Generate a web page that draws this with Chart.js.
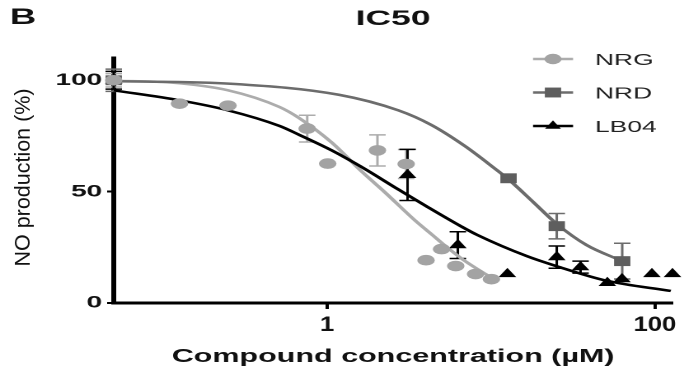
<!DOCTYPE html>
<html>
<head>
<meta charset="utf-8">
<title>IC50</title>
<script src="https://cdn.jsdelivr.net/npm/chart.js@4.4.0/dist/chart.umd.min.js"></script>
<style>
  html, body { margin: 0; padding: 0; background: #fff; overflow: hidden; }
  /* the figure is drawn narrow and stretched sideways, like the source image */
  #wrap { position: absolute; left: 0; top: 0; width: 415px; height: 367px;
          transform: scaleX(1.6482); transform-origin: 0 0; }
</style>
</head>
<body>
<div id="wrap"><canvas id="ic50Chart"></canvas></div>
<script>
var STRETCH = 684 / 415;

// --- values ---
var panelLetter = 'B';
var chartTitle = 'IC50';
var xTitle = 'Compound concentration (\u00b5M)';
var yTitle = 'NO production (%)';
var seriesNames = ['NRG', 'NRD', 'LB04'];

var xTickValues = [1, 100];
var xTickLabels = ['1', '100'];
var yTickValues = [0, 50, 100];

// measured points (conc in uM, NO %, +/- error)
var nrgConc = [0.05, 0.126, 0.249, 0.757, 1.01, 2.03, 3.04, 4.02, 5.0, 6.1, 8.06, 10.07];
var nrgNO   = [100, 89.5, 88.6, 78.3, 62.6, 68.5, 62.4, 19.2, 24.2, 16.6, 13, 10.7];
var nrgErr  = [3, 0, 0, 6, 0, 7, 6.5, 0, 0, 0, 0, 0];

var nrdConc = [0.05, 12.8, 25.2, 63.2];
var nrdNO   = [100, 56, 34.5, 18.8];
var nrdErr  = [5, 0, 5.7, 8];

var lbConc = [0.05, 3.1, 6.28, 12.6, 25.2, 35.2, 51.3, 63, 95.9, 128];
var lbNO   = [100, 57.5, 26, 13, 20.6, 16.1, 9, 10.7, 13, 13];
var lbErr  = [4, 11.5, 6, 0, 5, 2.7, 0, 0, 0, 0];

// fitted curves
var nrgFitConc = [0.05, 0.111, 0.249, 0.513, 0.677, 1.07, 1.63, 2.27, 3.45, 4.4, 5.2, 6.9, 10];
var nrgFitNO   = [99.8, 99, 95.5, 88, 83, 72, 59, 49.5, 37, 30.5, 26, 19, 11.5];

var nrdFitConc = [0.05, 0.267, 1.18, 2.72, 4.31, 6.92, 10.5, 12.8, 18.3, 25.2, 38.3, 63.2];
var nrdFitNO   = [99.6, 98.4, 93.5, 86.5, 80, 70.5, 60.5, 55.5, 45, 35.5, 26, 18.8];

var lbFitConc = [0.05, 0.126, 0.249, 0.513, 0.677, 1.07, 1.63, 2.72, 4.13, 6.54, 8.28, 16.6, 25.2, 50.6, 125];
var lbFitNO   = [95.5, 91, 86.5, 79.5, 75.5, 68.5, 61, 51, 43, 34.5, 30.5, 21, 16.5, 10, 5.4];

var nrgColor = '#a3a3a3', nrgLine = '#acacac';
var nrdColor = '#5e5e5e', nrdLine = '#6c6c6c';
var lbColor = '#000000';

function toPts(xs, ys) {
  var out = [];
  for (var i = 0; i < xs.length; i++) out.push({ x: xs[i], y: ys[i] });
  return out;
}

var FONT = '"Liberation Sans", Arial, Helvetica, sans-serif';
Chart.defaults.font.family = FONT;

// error bars, drawn under the markers
var errorBars = {
  id: 'errorBars',
  beforeDatasetsDraw: function(chart) {
    var ctx = chart.ctx, xs = chart.scales.x, ys = chart.scales.y;
    ctx.save();
    chart.data.datasets.forEach(function(ds) {
      if (!ds.errors) return;
      ctx.strokeStyle = ds.barColor;
      ctx.lineWidth = 1.5;
      ds.data.forEach(function(p, i) {
        var e = ds.errors[i];
        if (!e) return;
        var px = xs.getPixelForValue(p.x);
        var top = ys.getPixelForValue(p.y + e);
        var bot = ys.getPixelForValue(p.y - e);
        ctx.beginPath();
        ctx.moveTo(px, top); ctx.lineTo(px, bot);
        ctx.moveTo(px - 5, top); ctx.lineTo(px + 5, top);
        ctx.moveTo(px - 5, bot); ctx.lineTo(px + 5, bot);
        ctx.stroke();
      });
    });
    ctx.restore();
  }
};

// titles, x tick labels and legend
var figText = {
  id: 'figText',
  afterDraw: function(chart) {
    var ctx = chart.ctx, area = chart.chartArea, xs = chart.scales.x;
    var cx = (area.left + area.right) / 2;
    ctx.save();
    ctx.fillStyle = '#111';
    ctx.textBaseline = 'alphabetic';

    ctx.font = 'bold 22px ' + FONT;
    ctx.textAlign = 'left';
    ctx.fillText(panelLetter, 6, 24);

    ctx.font = 'bold 21.5px ' + FONT;
    ctx.textAlign = 'center';
    ctx.fillText(chartTitle, cx, 25);

    ctx.font = 'bold 21px ' + FONT;
    xTickValues.forEach(function(v, i) {
      ctx.save();
      ctx.translate(xs.getPixelForValue(v), 331);
      ctx.scale(0.74, 1);
      ctx.fillText(xTickLabels[i], 0, 0);
      ctx.restore();
    });

    ctx.font = 'bold 18.5px ' + FONT;
    ctx.fillText(xTitle, cx, 362);

    // y title is not stretched in the source, so squeeze it back
    ctx.save();
    ctx.translate(14.3, 177.5);
    ctx.scale(1 / STRETCH, 1);
    ctx.rotate(-Math.PI / 2);
    ctx.font = '21.5px ' + FONT;
    ctx.textBaseline = 'middle';
    ctx.fillText(yTitle, 0, 0);
    ctx.restore();

    // legend
    var rows = [59, 92.5, 126];
    var styles = [
      { line: nrgLine, fill: nrgColor, pointStyle: 'circle', radius: 5.2 },
      { line: nrdLine, fill: nrdColor, pointStyle: 'rect', radius: 7 },
      { line: lbColor, fill: lbColor, pointStyle: 'triangle', radius: 5.6 }
    ];
    styles.forEach(function(s, i) {
      var y = rows[i];
      ctx.strokeStyle = s.line;
      ctx.lineWidth = 2.5;
      ctx.beginPath();
      ctx.moveTo(323.4, y); ctx.lineTo(347.7, y);
      ctx.stroke();
      ctx.fillStyle = s.fill;
      ctx.strokeStyle = s.fill;
      Chart.helpers.drawPoint(ctx, { pointStyle: s.pointStyle, radius: s.radius, rotation: 0, borderWidth: 0 }, 335.5, y);
      ctx.fillStyle = '#222';
      ctx.font = '16px ' + FONT;
      ctx.textAlign = 'left';
      ctx.fillText(seriesNames[i], 361, y + 6);
    });
    ctx.restore();
  }
};

var markerBase = { showLine: false, borderWidth: 0, pointHoverRadius: 0, clip: false };
var fitBase = { showLine: true, pointRadius: 0, pointHoverRadius: 0, borderWidth: 2.5,
                cubicInterpolationMode: 'monotone', fill: false, clip: false };

new Chart(document.getElementById('ic50Chart'), {
  type: 'scatter',
  data: {
    datasets: [
      Object.assign({}, markerBase, { label: seriesNames[0], data: toPts(nrgConc, nrgNO), errors: nrgErr,
        barColor: nrgLine, pointStyle: 'circle', pointRadius: 5.3, backgroundColor: nrgColor, borderColor: nrgColor, order: 0 }),
      Object.assign({}, markerBase, { label: seriesNames[1], data: toPts(nrdConc, nrdNO), errors: nrdErr,
        barColor: nrdLine, pointStyle: 'rect', pointRadius: 7, backgroundColor: nrdColor, borderColor: nrdColor, order: 1 }),
      Object.assign({}, markerBase, { label: seriesNames[2], data: toPts(lbConc, lbNO), errors: lbErr,
        barColor: lbColor, pointStyle: 'triangle', pointRadius: 6.2, backgroundColor: lbColor, borderColor: lbColor, order: 2 }),
      Object.assign({}, fitBase, { label: 'NRG fit', data: toPts(nrgFitConc, nrgFitNO), borderColor: nrgLine, order: 5 }),
      Object.assign({}, fitBase, { label: 'NRD fit', data: toPts(nrdFitConc, nrdFitNO), borderColor: nrdLine, order: 4 }),
      Object.assign({}, fitBase, { label: 'LB04 fit', data: toPts(lbFitConc, lbFitNO), borderColor: lbColor, order: 3 })
    ]
  },
  options: {
    responsive: true,
    maintainAspectRatio: false,
    animation: false,
    devicePixelRatio: 2,
    layout: { padding: { top: 58, right: 4, bottom: 0, left: 0 } },
    plugins: { legend: { display: false }, tooltip: { enabled: false }, title: { display: false } },
    events: [],
    scales: {
      x: {
        type: 'logarithmic',
        min: 0.05,
        max: 128,
        afterBuildTicks: function(s) { s.ticks = xTickValues.map(function(v) { return { value: v }; }); },
        afterFit: function(s) { s.height = 64; },
        ticks: { display: false },
        grid: { display: true, drawOnChartArea: false, drawTicks: true, tickLength: 6, tickWidth: 2, tickColor: '#000' },
        border: { display: true, color: '#000', width: 3 }
      },
      y: {
        min: 0,
        max: 110,
        afterBuildTicks: function(s) { s.ticks = yTickValues.map(function(v) { return { value: v }; }); },
        afterFit: function(s) { s.width = 69; },
        ticks: { color: '#111', padding: 3, font: { size: 17, weight: 'bold' } },
        grid: { display: true, drawOnChartArea: false, drawTicks: true, tickLength: 4, tickWidth: 2, tickColor: '#000' },
        border: { display: true, color: '#000', width: 3 }
      }
    }
  },
  plugins: [errorBars, figText]
});
</script>
</body>
</html>
